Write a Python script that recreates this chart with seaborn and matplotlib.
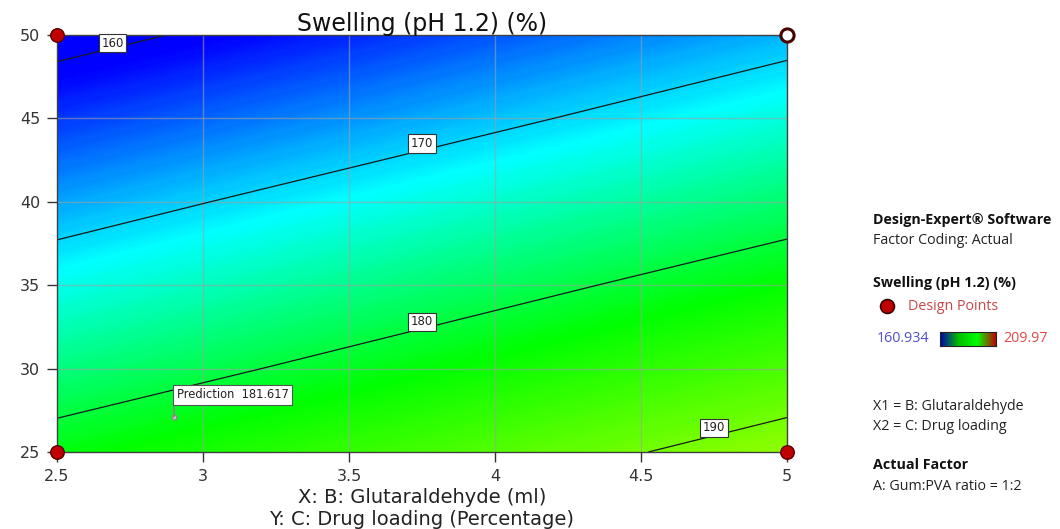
import numpy as np
import pandas as pd
import matplotlib
matplotlib.use("Agg")
import matplotlib.pyplot as plt
import seaborn as sns
from matplotlib.colors import LinearSegmentedColormap

# ---------------- data ----------------
glutaraldehyde = [2.5, 3.0, 3.5, 4.0, 4.5, 5.0]          # X: B (ml)
drug_loading = [25, 30, 35, 40, 45, 50]                   # Y: C (%)
# swelling surface, rows = drug loading, cols = glutaraldehyde
swelling = [
    [181.9, 183.9, 185.9, 187.9, 189.9, 191.9],   # 25
    [177.2, 179.2, 181.2, 183.2, 185.3, 187.3],   # 30
    [172.5, 174.5, 176.6, 178.6, 180.6, 182.6],   # 35
    [167.9, 169.9, 171.9, 173.9, 175.9, 177.9],   # 40
    [163.2, 165.2, 167.2, 169.2, 171.2, 173.2],   # 45
    [158.5, 160.5, 162.5, 164.6, 166.6, 168.6],   # 50
]
contour_levels = [160, 170, 180, 190]
color_min, color_max = 160.934, 209.97

design_x = [2.5, 2.5, 5.0]
design_y = [25, 50, 25]
open_design_x = [5.0]
open_design_y = [50]

pred_x, pred_y, pred_value = 2.9, 27.1, 181.617

x_ticks = [2.5, 3, 3.5, 4, 4.5, 5]
x_ticklabels = ["2.5", "3", "3.5", "4", "4.5", "5"]
y_ticks = [25, 30, 35, 40, 45, 50]
y_ticklabels = ["25", "30", "35", "40", "45", "50"]

# ---------------- style ----------------
sns.set_theme(style="white")
plt.rcParams["font.family"] = ["DejaVu Sans"]

cmap = LinearSegmentedColormap.from_list(
    "de", [(0.0, "#0000ff"), (0.22, "#00ffff"), (0.44, "#00ff00"),
           (0.78, "#ffff00"), (1.0, "#ff0000")])
cmap.set_under("#0000ff")
cmap.set_over("#ff0000")

W, H = 1060, 529
fig = plt.figure(figsize=(W / 100, H / 100), dpi=100)
ax = fig.add_axes([57 / W, 1 - 452 / H, 730 / W, 417 / H])

X, Y = np.meshgrid(glutaraldehyde, drug_loading)
Z = np.array(swelling)
fill_levels = np.linspace(color_min, color_max, 300)
ax.contourf(X, Y, Z, levels=fill_levels, cmap=cmap, extend="both",
            antialiased=False, zorder=0)
ax.contour(X, Y, Z, levels=contour_levels, colors="#1a1a1a",
           linewidths=0.9, zorder=2)

# contour labels
label_pos = [(2.69, 49.5), (3.75, 43.5), (3.75, 32.8), (4.75, 26.45)]
for lvl, (lx, ly) in zip(contour_levels, label_pos):
    ax.text(lx, ly, f"{lvl}", ha="center", va="center", fontsize=8.5,
            color="#222222", zorder=4,
            bbox=dict(boxstyle="square,pad=0.22", facecolor="white",
                      edgecolor="#333333", linewidth=0.8))

# grid
for xv in x_ticks[1:-1]:
    ax.axvline(xv, color="#a0a0a0", lw=1.0, alpha=0.6, zorder=1)
for yv in y_ticks[1:-1]:
    ax.axhline(yv, color="#a0a0a0", lw=1.0, alpha=0.6, zorder=1)

# design points
dp = pd.DataFrame({"x": design_x, "y": design_y})
sns.scatterplot(data=dp, x="x", y="y", ax=ax, s=95, color="#c00000",
                edgecolor="#5a0000", linewidth=1.0, zorder=6, clip_on=False,
                legend=False)
odp = pd.DataFrame({"x": open_design_x, "y": open_design_y})
sns.scatterplot(data=odp, x="x", y="y", ax=ax, s=90, color="white",
                edgecolor="#4a0000", linewidth=2.2, zorder=6, clip_on=False,
                legend=False)

# prediction flag
ax.plot([pred_x], [pred_y], marker="o", ms=3.5, mfc="#c8c8c8", mec="#888888",
        mew=0.9, zorder=5)
ax.plot([pred_x, pred_x], [pred_y, pred_y + 0.95], color="#888888", lw=1.2,
        zorder=5)
ax.text(pred_x + 0.01, pred_y + 1.32, f"Prediction  {pred_value}",
        ha="left", va="center", fontsize=8.3, color="#222222", zorder=6,
        bbox=dict(boxstyle="square,pad=0.3", facecolor="white",
                  edgecolor="#555555", linewidth=0.8))

ax.set_xlim(2.5, 5)
ax.set_ylim(25, 50)
ax.set_xticks(x_ticks)
ax.set_xticklabels(x_ticklabels)
ax.set_yticks(y_ticks)
ax.set_yticklabels(y_ticklabels)
ax.tick_params(axis="both", direction="out", length=7, width=1.0,
               color="#333333", labelsize=11.5, labelcolor="#333333",
               bottom=True, left=True, pad=5)
for sp in ax.spines.values():
    sp.set_color("#404040")
    sp.set_linewidth(1.0)
ax.set_title("Swelling (pH 1.2) (%)", fontsize=17, color="#111111", pad=3)
ax.set_xlabel("X: B: Glutaraldehyde (ml)\nY: C: Drug loading (Percentage)",
              fontsize=14, color="#222222", linespacing=1.2, labelpad=3)
ax.set_ylabel("")

# ---------------- side legend ----------------
ov = fig.add_axes([0, 0, 1, 1], facecolor="none")
ov.set_xlim(0, W)
ov.set_ylim(H, 0)
ov.axis("off")
lf = ["Open Sans", "DejaVu Sans"]
fs = 10.3
tx = 873
ov.text(tx, 220, "Design-Expert® Software", fontsize=fs, fontweight="bold",
        color="#111111", va="center", family=lf)
ov.text(tx, 240, "Factor Coding: Actual", fontsize=fs, color="#222222",
        va="center", family=lf)
ov.text(tx, 283, "Swelling (pH 1.2) (%)", fontsize=fs, fontweight="bold",
        color="#111111", va="center", family=lf)
ov.scatter([887], [306], s=100, color="#c00000", edgecolor="#3a0000",
           linewidth=1.2, zorder=5)
ov.text(908, 306, "Design Points", fontsize=fs, color="#c84848", va="center",
        family=lf)
ov.text(877, 339, f"{color_min}", fontsize=fs, color="#5050d0", va="center",
        family=lf)
ov.text(1003, 339, f"{color_max}", fontsize=fs, color="#e04848", va="center",
        family=lf)
cb = fig.add_axes([940 / W, 1 - 346 / H, 56 / W, 14 / H])
cb.imshow(np.linspace(0, 1, 256)[None, :], aspect="auto",
          cmap=LinearSegmentedColormap.from_list(
              "leg", ["#0000b0", "#00c000", "#00ff00", "#c00000"]))
cb.set_xticks([])
cb.set_yticks([])
for sp in cb.spines.values():
    sp.set_color("#222222")
    sp.set_linewidth(0.8)
ov.text(tx, 407, "X1 = B: Glutaraldehyde", fontsize=fs, color="#222222",
        va="center", family=lf)
ov.text(tx, 426, "X2 = C: Drug loading", fontsize=fs, color="#222222",
        va="center", family=lf)
ov.text(tx, 465, "Actual Factor", fontsize=fs, fontweight="bold",
        color="#111111", va="center", family=lf)
ov.text(tx, 487, "A: Gum:PVA ratio = 1:2", fontsize=fs, color="#222222",
        va="center", family=lf)

fig.savefig("out.png", dpi=100)
